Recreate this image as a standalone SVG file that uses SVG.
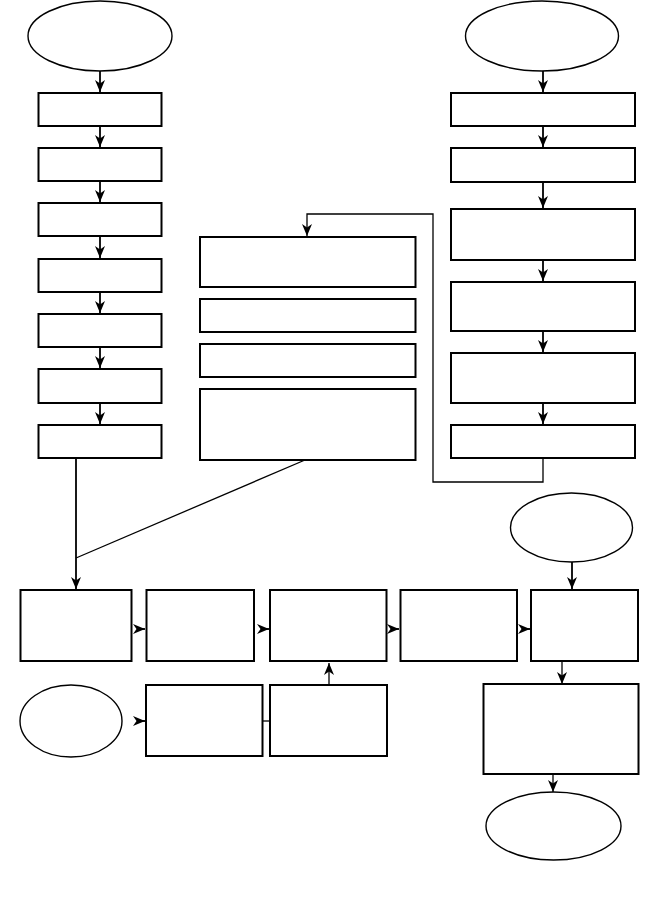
<svg xmlns="http://www.w3.org/2000/svg" width="656" height="916" viewBox="0 0 656 916">
<style>
.n{fill:#fff;stroke:#000;stroke-width:2}
.e{fill:#fff;stroke:#000;stroke-width:1.4}
.c{fill:none;stroke:#000;stroke-width:1.8}
.t{fill:none;stroke:#000;stroke-width:1.3}
</style>
<defs>
<marker id="a" viewBox="0 0 12 10" refX="12" refY="5" markerWidth="12" markerHeight="10" markerUnits="userSpaceOnUse" orient="auto">
<path d="M0,0 L12,5 L0,10 L3.5,5 z" fill="#000"/>
</marker>
</defs>
<rect width="656" height="916" fill="#fff"/>
<g id="connectors">
<path class="c" d="M100,71 V92" marker-end="url(#a)"/>
<path class="c" d="M100,126 V147" marker-end="url(#a)"/>
<path class="c" d="M100,181 V202" marker-end="url(#a)"/>
<path class="c" d="M100,236 V258" marker-end="url(#a)"/>
<path class="c" d="M100,292 V313" marker-end="url(#a)"/>
<path class="c" d="M100,347 V368" marker-end="url(#a)"/>
<path class="c" d="M100,403 V424" marker-end="url(#a)"/>
<path class="c" d="M76,458 V589" marker-end="url(#a)"/>
<path class="t" d="M305,460 L76,558"/>
<path class="c" d="M543,71 V92" marker-end="url(#a)"/>
<path class="c" d="M543,126 V147" marker-end="url(#a)"/>
<path class="c" d="M543,182 V208" marker-end="url(#a)"/>
<path class="c" d="M543,260 V281" marker-end="url(#a)"/>
<path class="c" d="M543,331 V352" marker-end="url(#a)"/>
<path class="c" d="M543,403 V424" marker-end="url(#a)"/>
<path class="t" d="M543,458 V482 H433 V214 H307 V236" marker-end="url(#a)"/>
<path class="c" d="M572,562 V589" marker-end="url(#a)"/>
<path class="c" d="M141,629 L145,629" marker-end="url(#a)"/>
<path class="c" d="M265,629 L269,629" marker-end="url(#a)"/>
<path class="c" d="M395,629 L399,629" marker-end="url(#a)"/>
<path class="c" d="M526,629 L530,629" marker-end="url(#a)"/>
<path class="c" d="M141,721 L145,721" marker-end="url(#a)"/>
<path class="t" d="M263,721 H270"/>
<path class="t" d="M329,685 V663" marker-end="url(#a)"/>
<path class="t" d="M562,661 V684" marker-end="url(#a)"/>
<path class="t" d="M553,774 V792" marker-end="url(#a)"/>
</g>
<g id="left-start"><ellipse class="e" cx="100" cy="36" rx="72" ry="35"/></g>
<g id="l1"><rect class="n" x="38.5" y="93" width="123" height="33"/></g>
<g id="l2"><rect class="n" x="38.5" y="148" width="123" height="33"/></g>
<g id="l3"><rect class="n" x="38.5" y="203" width="123" height="33"/></g>
<g id="l4"><rect class="n" x="38.5" y="259" width="123" height="33"/></g>
<g id="l5"><rect class="n" x="38.5" y="314" width="123" height="33"/></g>
<g id="l6"><rect class="n" x="38.5" y="369" width="123" height="34"/></g>
<g id="l7"><rect class="n" x="38.5" y="425" width="123" height="33"/></g>
<g id="right-start"><ellipse class="e" cx="542" cy="36" rx="76.5" ry="35"/></g>
<g id="r1"><rect class="n" x="451" y="93" width="184" height="33"/></g>
<g id="r2"><rect class="n" x="451" y="148" width="184" height="34"/></g>
<g id="r3"><rect class="n" x="451" y="209" width="184" height="51"/></g>
<g id="r4"><rect class="n" x="451" y="282" width="184" height="49"/></g>
<g id="r5"><rect class="n" x="451" y="353" width="184" height="50"/></g>
<g id="r6"><rect class="n" x="451" y="425" width="184" height="33"/></g>
<g id="m1"><rect class="n" x="200" y="237" width="215.5" height="50"/></g>
<g id="m2"><rect class="n" x="200" y="299" width="215.5" height="33"/></g>
<g id="m3"><rect class="n" x="200" y="344" width="215.5" height="33"/></g>
<g id="m4"><rect class="n" x="200" y="389" width="215.5" height="71"/></g>
<g id="mid-start"><ellipse class="e" cx="571.5" cy="527.5" rx="61" ry="34.5"/></g>
<g id="b1"><rect class="n" x="20.5" y="590" width="111" height="71"/></g>
<g id="b2"><rect class="n" x="146.5" y="590" width="107.5" height="71"/></g>
<g id="b3"><rect class="n" x="270" y="590" width="116.5" height="71"/></g>
<g id="b4"><rect class="n" x="400.5" y="590" width="116.5" height="71"/></g>
<g id="b5"><rect class="n" x="531" y="590" width="107" height="71"/></g>
<g id="low-start"><ellipse class="e" cx="71" cy="721" rx="51" ry="36"/></g>
<g id="b6"><rect class="n" x="146" y="685" width="116.5" height="71"/></g>
<g id="b7"><rect class="n" x="270" y="685" width="117" height="71"/></g>
<g id="b8"><rect class="n" x="483.5" y="684" width="155" height="90"/></g>
<g id="end"><ellipse class="e" cx="553.5" cy="826" rx="67.5" ry="34"/></g>
</svg>
